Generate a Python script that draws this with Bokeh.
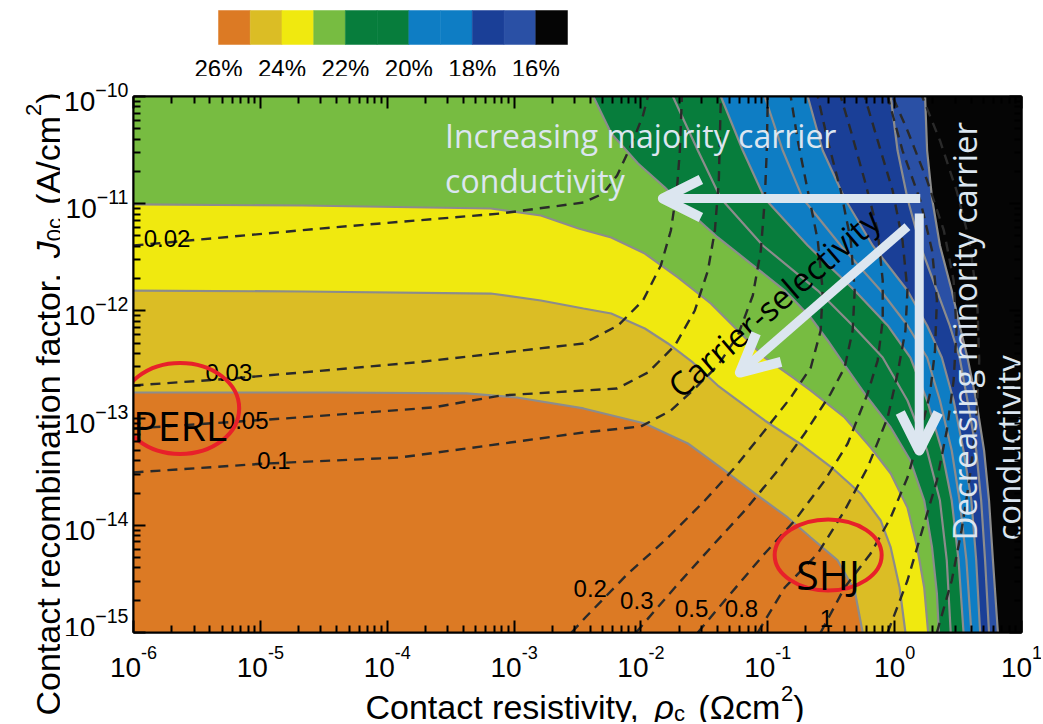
import math
from bokeh.plotting import figure
from bokeh.layouts import column, row
from bokeh.models import Range1d, LogAxis, FixedTicker, Label, Arrow, OpenHead
from bokeh.core.properties import value
from bokeh.embed import file_html
from bokeh.resources import INLINE

# ---------------- axis limits (log10 units) ----------------
rho_exp_min, rho_exp_max = -6, 1
j0c_exp_min, j0c_exp_max = -15, -10

# ---------------- efficiency colour scale ----------------
band_upper = [26, 25, 24, 23, 22, 21, 20, 19, 18, 17, 16]
band_lower = [25, 24, 23, 22, 21, 20, 19, 18, 17, 16, 15]
band_colors = ["#DC7A24", "#DBBD25", "#F0E90F", "#77BC41", "#077D3C", "#077D3C",
               "#0E7DC4", "#0E7DC4", "#1A3F97", "#2A50A5", "#050505"]
colorbar_ticks = [26, 24, 22, 20, 18, 16]
colorbar_tick_labels = ["26%", "24%", "22%", "20%", "18%", "16%"]

# ---------------- iso-efficiency contours (log10 rho_c, log10 J0c) ----------------
eff25_rho = [-6.0, -4.433, -3.376, -2.977, -2.453, -1.969, -1.630, -1.370, -1.102, -0.843, -0.661, -0.449, -0.315, -0.252]
eff25_j0 = [-12.761, -12.761, -12.770, -12.808, -12.910, -13.050, -13.237, -13.461, -13.703, -13.927, -14.114, -14.328, -14.608, -15.0]

eff24_rho = [-6.0, -4.669, -3.184, -2.789, -2.453, -2.234, -1.969, -1.787, -1.591, -1.394, -1.024, -0.724, -0.488, -0.268, -0.110, -0.031, 0.039, 0.085]
eff24_j0 = [-11.810, -11.819, -11.838, -11.903, -11.978, -12.024, -12.164, -12.304, -12.481, -12.696, -13.022, -13.256, -13.470, -13.703, -13.955, -14.207, -14.580, -15.0]

eff23_rho = [-6.0, -4.669, -3.184, -2.789, -2.492, -2.234, -1.969, -1.709, -1.449, -1.236, -1.024, -0.803, -0.661, -0.394, -0.189, -0.031, 0.101, 0.178, 0.233, 0.264]
eff23_j0 = [-11.007, -11.017, -11.045, -11.110, -11.231, -11.315, -11.465, -11.688, -11.931, -12.183, -12.435, -12.621, -12.743, -12.994, -13.274, -13.517, -13.834, -14.207, -14.580, -15.0]

eff22_rho = [-2.375, -2.234, -2.023, -1.811, -1.630, -1.394, -1.134, -0.866, -0.661, -0.528, -0.409, -0.236, -0.031, 0.124, 0.233, 0.295, 0.333, 0.349]
eff22_j0 = [-10.0, -10.345, -10.625, -10.849, -11.063, -11.315, -11.558, -11.810, -12.062, -12.276, -12.481, -12.771, -13.088, -13.396, -13.769, -14.207, -14.636, -15.0]

steep_j0 = [-10.0, -10.504, -10.951, -11.390, -11.810, -12.136, -12.435, -12.836, -13.302, -13.769, -14.328, -15.0]
eff21_rho = [-1.748, -1.551, -1.370, -1.039, -0.606, -0.331, -0.094, 0.101, 0.256, 0.357, 0.411, 0.442]
eff20_rho = [-1.370, -1.197, -1.024, -0.685, -0.315, -0.055, 0.124, 0.256, 0.372, 0.450, 0.504, 0.543]
eff19_rho = [-1.024, -0.882, -0.724, -0.425, -0.110, 0.101, 0.256, 0.357, 0.450, 0.512, 0.566, 0.605]
eff18_rho = [-0.685, -0.567, -0.394, -0.173, 0.101, 0.256, 0.372, 0.465, 0.543, 0.605, 0.643, 0.674]
eff17_rho = [-0.031, 0.023, 0.101, 0.202, 0.333, 0.434, 0.512, 0.574, 0.643, 0.682, 0.713, 0.744]
eff16_rho = [0.240, 0.256, 0.295, 0.357, 0.450, 0.512, 0.574, 0.643, 0.705, 0.744, 0.775, 0.814]

# ---------------- iso-selectivity (dashed) lines ----------------
sel_002_rho = [-6.0, -4.433, -3.104, -2.453, -2.297, -2.188, -2.078, -1.984, -1.945]
sel_002_j0 = [-11.390, -11.222, -11.091, -10.989, -10.905, -10.737, -10.457, -10.177, -10.0]
sel_003_rho = [-6.0, -5.224, -3.776, -2.453, -2.180, -1.984, -1.843, -1.764, -1.717, -1.693, -1.677]
sel_003_j0 = [-12.696, -12.631, -12.481, -12.304, -12.136, -11.903, -11.576, -11.250, -10.877, -10.504, -10.0]
sel_005_rho = [-6.0, -4.693, -3.640, -3.104, -2.188, -1.945, -1.732, -1.575, -1.472, -1.417, -1.386, -1.370]
sel_005_j0 = [-13.097, -12.994, -12.901, -12.789, -12.724, -12.575, -12.323, -11.996, -11.623, -11.250, -10.784, -10.0]
sel_01_rho = [-6.0, -4.961, -3.904, -3.376, -2.453, -2.000, -1.764, -1.575, -1.394, -1.236, -1.118, -1.055, -1.024, -1.008, -1.000]
sel_01_j0 = [-13.507, -13.424, -13.368, -13.284, -13.134, -13.078, -12.929, -12.724, -12.509, -12.229, -11.856, -11.437, -10.970, -10.504, -10.0]
sel_02_rho = [-2.547, -2.438, -2.102, -1.811, -1.496, -1.260, -1.024, -0.819, -0.661, -0.583, -0.567, -0.606, -0.685, -0.764, -0.819]
sel_02_j0 = [-15.0, -14.860, -14.450, -14.142, -13.769, -13.461, -13.116, -12.808, -12.528, -12.183, -11.810, -11.343, -10.877, -10.410, -10.0]
sel_03_rho = [-2.039, -1.732, -1.449, -1.181, -0.921, -0.709, -0.504, -0.394, -0.331, -0.315, -0.346, -0.425, -0.528, -0.606]
sel_03_j0 = [-15.0, -14.580, -14.207, -13.862, -13.489, -13.144, -12.771, -12.528, -12.183, -11.810, -11.343, -10.877, -10.410, -10.0]
sel_05_rho = [-1.551, -1.339, -1.024, -0.787, -0.551, -0.370, -0.213, -0.134, -0.094, -0.094, -0.134, -0.236, -0.346, -0.425]
sel_05_j0 = [-15.0, -14.701, -14.263, -13.955, -13.582, -13.237, -12.771, -12.463, -12.090, -11.716, -11.250, -10.784, -10.317, -10.0]
sel_08_rho = [-1.079, -0.866, -0.606, -0.394, -0.213, -0.055, 0.023, 0.085, 0.101, 0.062, -0.016, -0.134, -0.236]
sel_08_j0 = [-15.0, -14.580, -14.263, -13.862, -13.461, -12.994, -12.584, -12.183, -11.810, -11.343, -10.877, -10.410, -10.0]
sel_1_rho = [-0.583, -0.394, -0.189, -0.031, 0.101, 0.202, 0.279, 0.318, 0.333, 0.295, 0.202, 0.062, -0.055]
sel_1_j0 = [-15.0, -14.580, -14.263, -13.927, -13.554, -13.144, -12.771, -12.369, -11.903, -11.437, -10.970, -10.504, -10.0]
sel_2_rho = [-0.055, 0.101, 0.217, 0.333, 0.411, 0.465, 0.488, 0.465, 0.388, 0.256, 0.101, -0.016]
sel_2_j0 = [-15.0, -14.515, -14.049, -13.582, -13.116, -12.649, -12.183, -11.716, -11.250, -10.784, -10.317, -10.0]
sel_5_rho = [0.333, 0.450, 0.527, 0.589, 0.643, 0.667, 0.651, 0.589, 0.488, 0.357, 0.217]
sel_5_j0 = [-15.0, -14.515, -14.049, -13.582, -13.022, -12.463, -11.903, -11.343, -10.877, -10.410, -10.0]

sel_label_text = ["0.02", "0.03", "0.05", "0.1", "0.2", "0.3", "0.5", "0.8", "1"]
sel_label_rho = [-5.92, -5.432, -5.304, -5.024, -2.531, -2.164, -1.732, -1.339, -0.591]
sel_label_j0 = [-11.325, -12.575, -13.022, -13.396, -14.590, -14.701, -14.776, -14.776, -14.869]

# ---------------- annotations ----------------
device_names = ["PERL", "SHJ"]
device_rho = [-5.632, -0.524]
device_j0 = [-12.910, -14.277]
device_text_j0 = [-13.069, -14.450]
device_ring_w = [118, 107]
device_ring_h = [91, 71]

x_ticks_exp = list(range(-6, 2))
y_ticks_exp = list(range(-15, -9))

RED = "#E8202A"
PALE = "#DCE6F0"
TITLE_FONT = "Liberation Sans"

# ---------------- page layout (pixels) ----------------
PAGE_H = 722
YT_W = 60          # strip holding the vertical axis title
COL_W = 981        # colour bar, plot and x-label strip
CB_H = 76
P_TOP, FRAME_H, P_BOTTOM = 20, 536, 4
P_LEFT, FRAME_W = 73, 888
P_RIGHT = COL_W - P_LEFT - FRAME_W
XT_H = PAGE_H - CB_H - (P_TOP + FRAME_H + P_BOTTOM)
PX_PER_DECADE_X = FRAME_W / (rho_exp_max - rho_exp_min)

# Arial / Liberation Sans advance widths (per 1000 em)
ARIAL_W = {' ': 278, ',': 278, '(': 333, ')': 333, '/': 278, '-': 333, 'A': 667, 'C': 722,
           'J': 500, 'a': 556, 'b': 556, 'c': 500, 'e': 556, 'f': 278, 'i': 222, 'l': 222,
           'm': 833, 'n': 556, 'o': 556, 'r': 333, 's': 500, 't': 278, 'v': 500, 'y': 500,
           'Ω': 768, 'ρ': 574}


def text_w(s, size):
    return sum(ARIAL_W.get(ch, 556) for ch in s) * size / 1000.0


def p10(seq):
    return [10.0 ** v for v in seq]


def strip(width, height, xr, yr, left=0, right=0):
    return figure(width=width, height=height, x_range=xr, y_range=yr,
                  x_axis_type=None, y_axis_type=None, output_backend="svg",
                  toolbar_location=None, min_border=0, min_border_left=left,
                  min_border_right=right, outline_line_color=None)


# ---------------- colour bar (strip above the plot, frame aligned with plot) ----------------
cell_px = 31.727
cb_left_px = 85            # first cell starts 85 px right of the plot frame
bar_bottom_px, bar_px = 32, 34
cb = strip(COL_W, CB_H,
           Range1d(26 + cb_left_px / cell_px, 26 - (FRAME_W - cb_left_px) / cell_px),
           Range1d(-bar_bottom_px / bar_px, (CB_H - bar_bottom_px) / bar_px),
           left=P_LEFT, right=P_RIGHT)
cb.quad(left=band_upper, right=band_lower, bottom=0, top=1, fill_color=band_colors,
        line_color=band_colors, line_width=0.5)
cb.text(x=colorbar_ticks, y=[(8 - bar_bottom_px) / bar_px] * len(colorbar_ticks),
        text=colorbar_tick_labels, text_font=value(TITLE_FONT), text_font_size="24px",
        text_align="center", text_baseline="alphabetic", text_color="black")

# ---------------- main plot ----------------
p = figure(width=COL_W, height=P_TOP + FRAME_H + P_BOTTOM, x_axis_type="log", y_axis_type="log",
           x_range=Range1d(10.0 ** rho_exp_min, 10.0 ** rho_exp_max),
           y_range=Range1d(10.0 ** j0c_exp_min, 10.0 ** j0c_exp_max),
           output_backend="svg", toolbar_location=None,
           min_border_left=P_LEFT, min_border_right=P_RIGHT,
           min_border_top=P_TOP, min_border_bottom=P_BOTTOM)
p.grid.visible = False
p.outline_line_color = "black"
p.outline_line_width = 2

# lowest band (<16 %) fills the whole frame
p.quad(left=[10.0 ** rho_exp_min], right=[10.0 ** rho_exp_max],
       bottom=[10.0 ** j0c_exp_min], top=[10.0 ** j0c_exp_max],
       fill_color=band_colors[-1], line_color=None)

contours = [(16, eff16_rho, steep_j0), (17, eff17_rho, steep_j0), (18, eff18_rho, steep_j0),
            (19, eff19_rho, steep_j0), (20, eff20_rho, steep_j0), (21, eff21_rho, steep_j0),
            (22, eff22_rho, eff22_j0), (23, eff23_rho, eff23_j0), (24, eff24_rho, eff24_j0),
            (25, eff25_rho, eff25_j0)]
for lvl, rx, jy in contours:
    col = band_colors[band_lower.index(lvl)]
    px = list(rx) + [rho_exp_min]
    py = list(jy) + [j0c_exp_min]
    if jy[0] == j0c_exp_max:
        px.append(rho_exp_min)
        py.append(j0c_exp_max)
    p.patch(p10(px), p10(py), fill_color=col, line_color=None)
for lvl, rx, jy in contours:
    p.line(p10(rx), p10(jy), line_color="#8C8C8C", line_width=2.2)

sel_lines = [(sel_002_rho, sel_002_j0), (sel_003_rho, sel_003_j0), (sel_005_rho, sel_005_j0),
             (sel_01_rho, sel_01_j0), (sel_02_rho, sel_02_j0), (sel_03_rho, sel_03_j0),
             (sel_05_rho, sel_05_j0), (sel_08_rho, sel_08_j0), (sel_1_rho, sel_1_j0),
             (sel_2_rho, sel_2_j0), (sel_5_rho, sel_5_j0)]
for rx, jy in sel_lines:
    p.line(p10(rx), p10(jy), line_color="#2A2A2A", line_width=2.4, line_dash="10 7")

p.text(x=p10(sel_label_rho), y=p10(sel_label_j0), text=sel_label_text,
       text_font=value(TITLE_FONT), text_font_size="24px", text_align="left",
       text_baseline="alphabetic", text_color="black")

# device rings and names
p.ellipse(x=p10(device_rho), y=p10(device_j0), width=device_ring_w, height=device_ring_h,
          width_units="screen", height_units="screen", fill_color=None,
          line_color=RED, line_width=4)
for name, rx, ty in zip(device_names, device_rho, device_text_j0):
    p.add_layout(Label(x=10.0 ** rx, y=10.0 ** ty, text=name, text_font="Open Sans",
                       text_font_size="41px", text_align="center", text_baseline="alphabetic",
                       text_color="black"))

# descriptive texts
p.add_layout(Label(x=10.0 ** -3.544, y=10.0 ** -10.364, text="Increasing majority carrier",
                   text_font="Open Sans", text_font_size="32px", text_color=PALE,
                   text_baseline="alphabetic"))
p.add_layout(Label(x=10.0 ** -3.544, y=10.0 ** -10.784, text="conductivity",
                   text_font="Open Sans", text_font_size="32px", text_color=PALE,
                   text_baseline="alphabetic"))
p.add_layout(Label(x=10.0 ** -1.748, y=10.0 ** -12.743, text="Carrier-selectivity",
                   angle=math.radians(41), text_font="Open Sans", text_font_size="33px",
                   text_color="black", text_baseline="alphabetic"))
p.add_layout(Label(x=10.0 ** 0.550, y=10.0 ** -14.142, text="Decreasing minority carrier",
                   angle=math.pi / 2, text_font="Open Sans", text_font_size="33px",
                   text_color=PALE, text_baseline="alphabetic"))
p.add_layout(Label(x=10.0 ** 0.899, y=10.0 ** -14.142, text="conductivity",
                   angle=math.pi / 2, text_font="Open Sans", text_font_size="33px",
                   text_color=PALE, text_baseline="alphabetic"))

# arrows
arrow_defs = [((0.202, -10.951), (-1.827, -10.951)),
              ((0.101, -11.213), (-1.220, -12.575)),
              ((0.194, -11.091), (0.194, -13.302))]
for (xs, ys), (xe, ye) in arrow_defs:
    p.add_layout(Arrow(x_start=10.0 ** xs, y_start=10.0 ** ys, x_end=10.0 ** xe, y_end=10.0 ** ye,
                       line_color=PALE, line_width=9,
                       end=OpenHead(size=38, line_width=10, line_color=PALE, line_join="round")))

# axes (ticks inside, drawn on top of the filled map)
majors_x = p10(x_ticks_exp)
minors_x = [m * 10.0 ** e for e in x_ticks_exp[:-1] for m in range(2, 10)]
majors_y = p10(y_ticks_exp)
minors_y = [m * 10.0 ** e for e in y_ticks_exp[:-1] for m in range(2, 10)]


def style_axis(ax, labels=True):
    ax.level = "overlay"
    ax.major_tick_in = 12
    ax.major_tick_out = 0
    ax.minor_tick_in = 7
    ax.minor_tick_out = 0
    ax.major_tick_line_width = 2
    ax.minor_tick_line_width = 2
    ax.axis_line_width = 2
    ax.axis_line_color = "black"
    ax.major_tick_line_color = "black"
    ax.minor_tick_line_color = "black"
    if labels:
        ax.major_label_text_font = TITLE_FONT
        ax.major_label_text_font_size = "28px"
        ax.major_label_text_color = "black"
        ax.major_label_standoff = 5
    else:
        ax.major_label_text_font_size = "0px"
        ax.major_label_text_color = None
        ax.major_label_standoff = 0


p.xaxis.ticker = FixedTicker(ticks=majors_x, minor_ticks=minors_x)
p.yaxis.ticker = FixedTicker(ticks=majors_y, minor_ticks=minors_y)
style_axis(p.xaxis[0], labels=False)     # x tick labels are drawn in the strip below
style_axis(p.yaxis[0])
top_ax = LogAxis(ticker=FixedTicker(ticks=majors_x, minor_ticks=minors_x))
right_ax = LogAxis(ticker=FixedTicker(ticks=majors_y, minor_ticks=minors_y))
style_axis(top_ax, labels=False)
style_axis(right_ax, labels=False)
p.add_layout(top_ax, "above")
p.add_layout(right_ax, "right")

# ---------------- strip below the plot: x tick labels and x title ----------------
# x data unit = one decade of rho_c (aligned with the plot frame); y = pixels from strip top
xt_x0 = rho_exp_min - P_LEFT / PX_PER_DECADE_X
xt_x1 = rho_exp_min + (COL_W - P_LEFT) / PX_PER_DECADE_X
xt = strip(COL_W, XT_H, Range1d(xt_x0, xt_x1), Range1d(XT_H, 0))

BASE_SIZE, EXPO_SIZE = 28, 18
expo_txt = [str(e) for e in x_ticks_exp]
base_off = []
expo_off = []
for s in expo_txt:
    wb, we = text_w("10", BASE_SIZE), text_w(s, EXPO_SIZE)
    base_off.append(-(wb + we) / 2.0)
    expo_off.append(-(wb + we) / 2.0 + wb)
xt.text(x=x_ticks_exp, y=[31] * len(x_ticks_exp), text=["10"] * len(x_ticks_exp),
        x_offset=base_off, text_font=value(TITLE_FONT), text_font_size=f"{BASE_SIZE}px",
        text_align="left", text_baseline="alphabetic", text_color="black")
xt.text(x=x_ticks_exp, y=[16] * len(x_ticks_exp), text=expo_txt,
        x_offset=expo_off, text_font=value(TITLE_FONT), text_font_size=f"{EXPO_SIZE}px",
        text_align="left", text_baseline="alphabetic", text_color="black")

MAIN_SIZE, SMALL_SIZE = 34, 22


def add_rich_title(fig, pieces, x0, y0, vertical, sup_shift=14, sub_shift=-7, x_off0=0.0):
    pos = 0.0
    for txt, style, kind in pieces:
        size = SMALL_SIZE if kind in ("sub", "sup") else MAIN_SIZE
        if txt == " ":
            pos += 1.4 * text_w(" ", size)
            continue
        shift = {"sub": sub_shift, "sup": sup_shift, "base": 0}[kind]
        if vertical:
            x, y, ang, xo = x0 - shift, y0 + pos, math.pi / 2, 0.0
        else:
            x, y, ang, xo = x0, y0 + shift, 0.0, x_off0 + pos
        fig.text(x=[x], y=[y], text=[txt], angle=ang, x_offset=xo,
                 text_font=value(TITLE_FONT), text_font_size=f"{size}px",
                 text_font_style=style, text_align="left",
                 text_baseline="alphabetic", text_color="black")
        pos += text_w(txt, size)


x_title = [("Contact resistivity,", "normal", "base"), (" ", "normal", "base"),
           ("ρ", "italic", "base"), ("c", "normal", "sub"), (" ", "normal", "base"),
           ("(Ωcm", "normal", "base"), ("2", "normal", "sup"), (")", "normal", "base")]
y_title = [("Contact recombination factor,", "normal", "base"), (" ", "normal", "base"),
           ("J", "italic", "base"), ("0c", "normal", "sub"), (" ", "normal", "base"),
           ("(A/cm", "normal", "base"), ("2", "normal", "sup"), (")", "normal", "base")]

# in the x strip y grows downwards: superscript goes to smaller y
add_rich_title(xt, x_title, rho_exp_min, 70, vertical=False, sup_shift=-13, sub_shift=7,
               x_off0=232)

yt = strip(YT_W, PAGE_H, Range1d(0, YT_W), Range1d(0, PAGE_H))
add_rich_title(yt, y_title, 47, 7, vertical=True)

layout = row(yt, column(column(cb, p, spacing=0), row(xt, spacing=0), spacing=0), spacing=0)
with open("out.html", "w", encoding="utf-8") as f:
    f.write(file_html(layout, INLINE, "Contact selectivity map"))
